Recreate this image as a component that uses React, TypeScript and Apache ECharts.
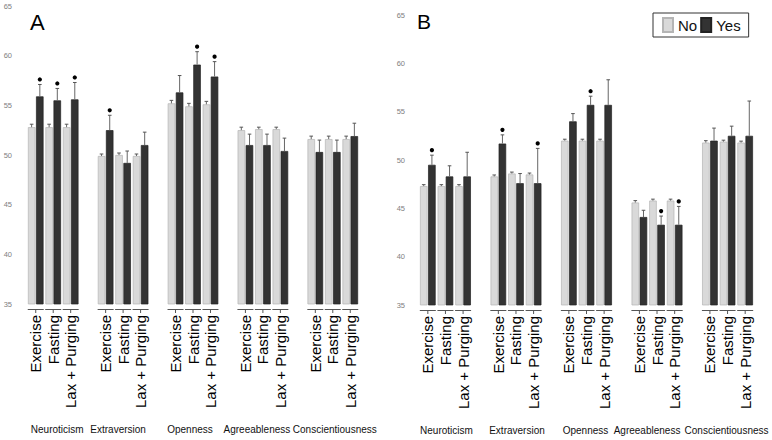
import React, { useEffect, useRef } from "react";
import * as echarts from "echarts";

// ---------- data ----------
const conditions = ["Exercise", "Fasting", "Lax + Purging"];
const traits = ["Neuroticism", "Extraversion", "Openness", "Agreeableness", "Conscientiousness"];
const yTicks = { min: 35, max: 65, interval: 5 };

// Panel A (trait-major order: Neuroticism Ex/Fa/Lax, Extraversion ..., ...)
const aNo = [52.8, 52.8, 52.8, 49.9, 50.0, 49.9, 55.2, 54.9, 55.1, 52.5, 52.6, 52.6, 51.6, 51.6, 51.6];
const aNoErr = [0.3, 0.3, 0.3, 0.2, 0.2, 0.2, 0.3, 0.3, 0.3, 0.3, 0.2, 0.2, 0.3, 0.3, 0.3];
const aYes = [55.9, 55.5, 55.6, 52.5, 49.2, 51.0, 56.3, 59.1, 57.9, 51.0, 51.0, 50.4, 50.3, 50.3, 51.9];
const aYesErr = [1.2, 1.2, 1.7, 1.5, 1.2, 1.3, 1.7, 1.3, 1.5, 1.1, 1.1, 1.3, 1.2, 1.2, 1.3];
const aStar = [1, 1, 1, 1, 0, 0, 0, 1, 1, 0, 0, 0, 0, 0, 0];

// Panel B
const bNo = [47.3, 47.3, 47.3, 48.3, 48.6, 48.5, 52.0, 52.0, 52.0, 45.6, 45.8, 45.8, 51.8, 51.9, 51.8];
const bNoErr = [0.15, 0.15, 0.15, 0.15, 0.15, 0.15, 0.15, 0.15, 0.15, 0.2, 0.15, 0.15, 0.2, 0.15, 0.15];
const bYes = [49.5, 48.3, 48.3, 51.7, 47.6, 47.6, 54.0, 55.7, 55.7, 44.1, 43.3, 43.3, 52.0, 52.5, 52.5];
const bYesErr = [1.0, 1.1, 2.5, 0.9, 1.0, 3.6, 0.8, 0.9, 2.6, 0.7, 0.9, 1.9, 1.3, 1.0, 3.6];
const bStar = [1, 0, 0, 1, 0, 1, 0, 1, 0, 0, 1, 1, 0, 0, 0];

// ---------- helpers / layout ----------
const FONT = "'Liberation Sans', Arial, Helvetica, sans-serif";
const BAR_W = 7.5;
const BAR_OFF = 4.1;
const NO_COLOR = "#d9d9d9";
const YES_COLOR = "#333333";
// horizontal nudges (px) of the trait names, per panel (layout only)
const traitShiftA = [4, -5, -3, -6, 2];
const traitShiftB = [1, 1, -1, -10, -1];

const slotIndex = (k: number) => Math.floor(k / 3) * 4 + (k % 3);
const SLOTS = traits.length * 4 - 1;

const slotCategories: string[] = [];
const traitCategories: string[] = [];
traits.forEach((t, i) => {
  conditions.forEach((c, j) => {
    slotCategories.push(c);
    traitCategories.push(j === 1 ? t : "");
  });
  if (i < traits.length - 1) {
    slotCategories.push("");
    traitCategories.push("");
  }
});

function expand(vals: number[]) {
  const out: (number | null)[] = new Array(SLOTS).fill(null);
  vals.forEach((v, k) => (out[slotIndex(k)] = v));
  return out;
}

function errData(no: number[], noErr: number[], yes: number[], yesErr: number[], star: number[]) {
  return no.map((_, k) => [slotIndex(k), no[k], noErr[k], yes[k], yesErr[k], star[k]]);
}

const renderErr = (_params: any, api: any) => {
  const idx = api.value(0);
  const cx = api.coord([idx, yTicks.min])[0];
  const y = (v: number) => api.coord([idx, v])[1];
  const base = y(yTicks.min);
  const children: any[] = [];
  const stroke = "#555";
  children.push({ type: "line", shape: { x1: cx - 8, y1: base + 5.5, x2: cx + 8, y2: base + 5.5 }, style: { stroke, lineWidth: 1 } });
  children.push({ type: "line", shape: { x1: cx, y1: base + 5.5, x2: cx, y2: base + 9 }, style: { stroke, lineWidth: 1 } });
  const pairs: [number, number, number][] = [
    [api.value(1), api.value(2), -BAR_OFF],
    [api.value(3), api.value(4), BAR_OFF],
  ];
  pairs.forEach(([v, e, o]) => {
    const x = cx + o;
    const y1 = y(v);
    const y2 = y(v + e);
    children.push({ type: "line", shape: { x1: x, y1, x2: x, y2 }, style: { stroke: "#666", lineWidth: 1 } });
    children.push({ type: "line", shape: { x1: x - 1.8, y1: y2, x2: x + 1.8, y2 }, style: { stroke: "#555", lineWidth: 1 } });
  });
  if (api.value(5)) {
    children.push({
      type: "circle",
      shape: { cx: cx + BAR_OFF, cy: y(api.value(3) + api.value(4)) - 5, r: 2.1 },
      style: { fill: "#000" },
    });
  }
  return { type: "group", children };
};

function panelAxes(gridIndex: number, shifts: number[]) {
  const rich: Record<string, any> = {};
  shifts.forEach((s, i) => {
    rich["t" + i] = {
      fontSize: 10,
      fontFamily: FONT,
      color: "#111",
      padding: s >= 0 ? [0, 0, 0, 2 * s] : [0, -2 * s, 0, 0],
    };
  });
  return [
    {
      type: "category",
      gridIndex,
      data: slotCategories,
      axisLine: { show: false },
      axisTick: { show: false },
      axisLabel: { interval: 0, rotate: 90, fontSize: 15, fontFamily: FONT, color: "#000", margin: 11 },
    },
    {
      type: "category",
      gridIndex,
      position: "bottom",
      offset: 120,
      data: traitCategories,
      axisLine: { show: false },
      axisTick: { show: false },
      axisLabel: {
        interval: 0,
        fontSize: 10,
        fontFamily: FONT,
        color: "#111",
        margin: 0,
        formatter: (v: string) => {
          const i = traits.indexOf(v);
          return i < 0 ? "" : `{t${i}|${v}}`;
        },
        rich,
      },
    },
  ];
}

function yAxis(gridIndex: number, margin: number) {
  return {
    type: "value",
    gridIndex,
    min: yTicks.min,
    max: yTicks.max,
    interval: yTicks.interval,
    axisLine: { show: false },
    axisTick: { show: false },
    splitLine: { show: false },
    axisLabel: { fontSize: 7.5, color: "#808080", fontFamily: FONT, margin },
  };
}

function panelSeries(axisIdx: number, yIdx: number, no: number[], noErr: number[], yes: number[], yesErr: number[], star: number[]) {
  return [
    {
      name: "No",
      type: "bar",
      xAxisIndex: axisIdx,
      yAxisIndex: yIdx,
      data: expand(no),
      barWidth: BAR_W,
      barGap: "8%",
      itemStyle: { color: NO_COLOR, borderColor: "#b5b5b5", borderWidth: 0.7 },
    },
    {
      name: "Yes",
      type: "bar",
      xAxisIndex: axisIdx,
      yAxisIndex: yIdx,
      data: expand(yes),
      barWidth: BAR_W,
      barGap: "8%",
      itemStyle: { color: YES_COLOR, borderColor: "#222", borderWidth: 0.7 },
    },
    {
      type: "custom",
      xAxisIndex: axisIdx,
      yAxisIndex: yIdx,
      renderItem: renderErr,
      encode: { x: 0, y: 1 },
      data: errData(no, noErr, yes, yesErr, star),
      z: 5,
    },
  ];
}

export default function App() {
  const ref = useRef<HTMLDivElement>(null);
  useEffect(() => {
    if (!ref.current) return;
    const chart = echarts.init(ref.current, undefined, { renderer: "svg" });
    chart.setOption({
      animation: false,
      backgroundColor: "#fff",
      textStyle: { fontFamily: FONT },
      grid: [
        { left: 27, top: 6, width: 332, height: 298 },
        { left: 419, top: 15, width: 335, height: 290 },
      ],
      xAxis: [...panelAxes(0, traitShiftA), ...panelAxes(1, traitShiftB)],
      yAxis: [yAxis(0, 15), yAxis(1, 14)],
      legend: {
        data: ["No", "Yes"],
        left: 653,
        top: 13,
        icon: "rect",
        itemWidth: 10,
        itemHeight: 14,
        itemGap: 3,
        padding: [4, 8, 4, 9],
        borderColor: "#333",
        borderWidth: 1,
        textStyle: { fontSize: 15, fontFamily: FONT, color: "#111" },
      },
      graphic: [
        { type: "text", left: 30, top: 11, style: { text: "A", font: "22px " + FONT, fill: "#000" } },
        { type: "text", left: 417, top: 11, style: { text: "B", font: "21px " + FONT, fill: "#000" } },
      ],
      series: [
        ...panelSeries(0, 0, aNo, aNoErr, aYes, aYesErr, aStar),
        ...panelSeries(2, 1, bNo, bNoErr, bYes, bYesErr, bStar),
      ],
    });
    return () => chart.dispose();
  }, []);
  return <div ref={ref} style={{ position: "absolute", left: 0, top: 0, width: 772, height: 440 }} />;
}
